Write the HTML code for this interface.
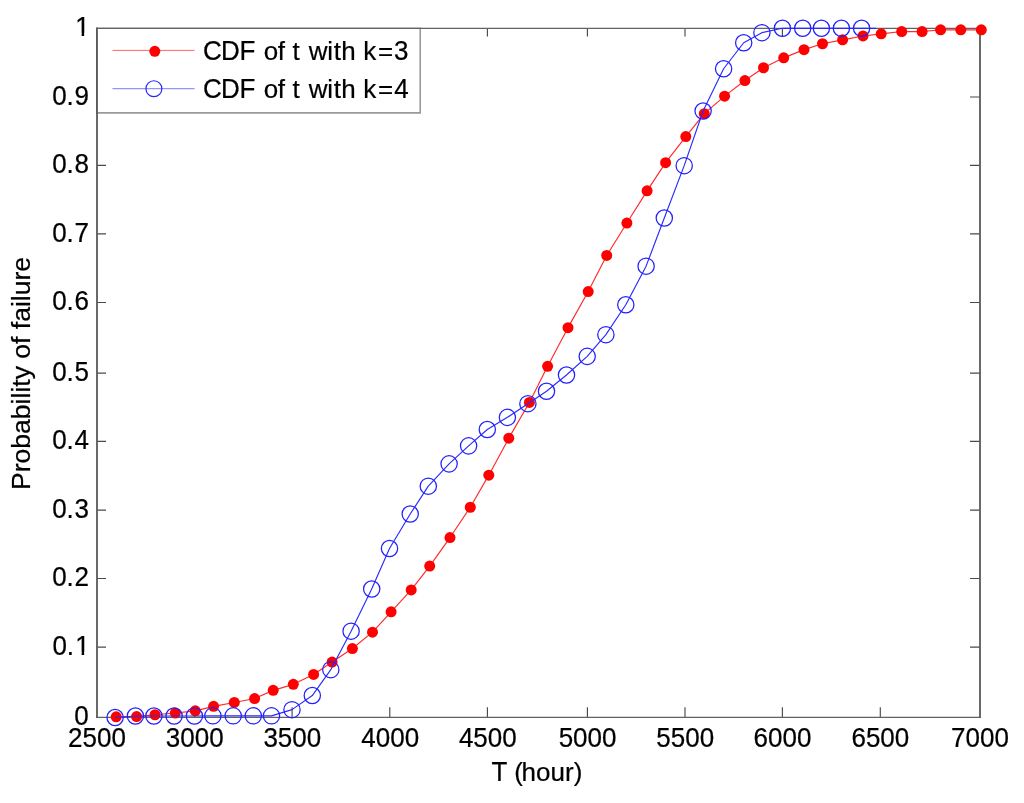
<!DOCTYPE html>
<html><head><meta charset="utf-8"><title>CDF of t</title><style>
html,body{margin:0;padding:0;background:#fff;width:1024px;height:803px;overflow:hidden}
svg{display:block}
text{font-family:"Liberation Sans",Arial,Helvetica,sans-serif;font-size:26px;fill:#000;stroke:#000;stroke-width:0.22px;font-kerning:none;white-space:pre}
</style></head><body>
<svg width="1024" height="803" viewBox="0 0 1024 803">
<defs>
<clipPath id="c01"><path d="M0 0H1024V651.90H0Z M0 0H75.50V803H0Z M81.65 0H84.15V803H81.65Z"/></clipPath>
<clipPath id="c1"><path d="M0 0H1024V33.20H0Z M0 0H75.50V803H0Z M81.65 0H84.15V803H81.65Z"/></clipPath>
</defs>
<rect x="0" y="0" width="1024" height="803" fill="#fff"/>
<path d="M194.5 717.3V707.3M194.5 28.4V36.4M292.1 717.3V707.3M292.1 28.4V36.4M389.8 717.3V707.3M389.8 28.4V36.4M487.4 717.3V707.3M487.4 28.4V36.4M587.4 717.3V707.3M587.4 28.4V36.4M685.0 717.3V707.3M685.0 28.4V36.4M782.4 717.3V707.3M782.4 28.4V36.4M880.3 717.3V707.3M880.3 28.4V36.4M97.0 647.1H106.0M980.0 647.1H970.0M97.0 578.5H106.0M980.0 578.5H970.0M97.0 510.1H106.0M980.0 510.1H970.0M97.0 441.4H106.0M980.0 441.4H970.0M97.0 373.1H106.0M980.0 373.1H970.0M97.0 302.5H106.0M980.0 302.5H970.0M97.0 233.8H106.0M980.0 233.8H970.0M97.0 165.4H106.0M980.0 165.4H970.0M97.0 97.0H106.0M980.0 97.0H970.0" stroke="#4a4a4a" stroke-width="1.15" fill="none"/>
<path d="M96.2 28.4H980.8M96.2 717.3H980.8" stroke="#626262" stroke-width="1.35" fill="none"/>
<path d="M97.0 27.8V717.9M980.0 27.8V717.9" stroke="#5a5a5a" stroke-width="1.8" fill="none"/>
<polyline points="116.20,716.85 136.60,716.55 155.00,714.75 175.30,713.05 195.30,710.85 213.60,706.35 234.30,702.45 254.60,698.55 273.20,690.35 293.30,684.35 313.60,674.45 332.10,662.05 352.40,648.55 372.50,632.15 391.10,611.85 411.20,589.95 429.70,566.05 450.00,537.55 470.30,507.25 488.80,475.15 508.80,438.15 529.40,402.45 547.60,366.35 568.00,327.65 588.20,291.55 606.70,255.45 626.90,223.05 647.10,190.85 665.60,162.65 685.80,136.55 704.30,113.65 724.60,96.15 744.90,80.55 763.50,67.75 783.70,57.85 804.00,49.65 822.50,43.75 842.60,39.85 863.00,35.95 881.20,33.85 901.70,31.55 922.10,31.55 940.60,29.85 960.80,29.85 981.30,29.85" fill="none" stroke="#ff2a2a" stroke-width="1.15" stroke-linejoin="round"/>
<g fill="#ff0000"><circle cx="116.20" cy="716.85" r="5.5"/><circle cx="136.60" cy="716.55" r="5.5"/><circle cx="155.00" cy="714.75" r="5.5"/><circle cx="175.30" cy="713.05" r="5.5"/><circle cx="195.30" cy="710.85" r="5.5"/><circle cx="213.60" cy="706.35" r="5.5"/><circle cx="234.30" cy="702.45" r="5.5"/><circle cx="254.60" cy="698.55" r="5.5"/><circle cx="273.20" cy="690.35" r="5.5"/><circle cx="293.30" cy="684.35" r="5.5"/><circle cx="313.60" cy="674.45" r="5.5"/><circle cx="332.10" cy="662.05" r="5.5"/><circle cx="352.40" cy="648.55" r="5.5"/><circle cx="372.50" cy="632.15" r="5.5"/><circle cx="391.10" cy="611.85" r="5.5"/><circle cx="411.20" cy="589.95" r="5.5"/><circle cx="429.70" cy="566.05" r="5.5"/><circle cx="450.00" cy="537.55" r="5.5"/><circle cx="470.30" cy="507.25" r="5.5"/><circle cx="488.80" cy="475.15" r="5.5"/><circle cx="508.80" cy="438.15" r="5.5"/><circle cx="529.40" cy="402.45" r="5.5"/><circle cx="547.60" cy="366.35" r="5.5"/><circle cx="568.00" cy="327.65" r="5.5"/><circle cx="588.20" cy="291.55" r="5.5"/><circle cx="606.70" cy="255.45" r="5.5"/><circle cx="626.90" cy="223.05" r="5.5"/><circle cx="647.10" cy="190.85" r="5.5"/><circle cx="665.60" cy="162.65" r="5.5"/><circle cx="685.80" cy="136.55" r="5.5"/><circle cx="704.30" cy="113.65" r="5.5"/><circle cx="724.60" cy="96.15" r="5.5"/><circle cx="744.90" cy="80.55" r="5.5"/><circle cx="763.50" cy="67.75" r="5.5"/><circle cx="783.70" cy="57.85" r="5.5"/><circle cx="804.00" cy="49.65" r="5.5"/><circle cx="822.50" cy="43.75" r="5.5"/><circle cx="842.60" cy="39.85" r="5.5"/><circle cx="863.00" cy="35.95" r="5.5"/><circle cx="881.20" cy="33.85" r="5.5"/><circle cx="901.70" cy="31.55" r="5.5"/><circle cx="922.10" cy="31.55" r="5.5"/><circle cx="940.60" cy="29.85" r="5.5"/><circle cx="960.80" cy="29.85" r="5.5"/><circle cx="981.30" cy="29.85" r="5.5"/></g>
<polyline points="115.10,717.45 135.40,716.05 153.90,715.95 174.10,715.95 194.40,715.95 212.90,715.85 233.20,715.85 253.30,715.85 271.50,715.85 292.00,709.65 312.30,695.55 330.80,669.65 351.10,631.15 371.70,588.95 389.50,548.45 410.20,514.05 428.30,486.15 449.10,463.85 468.60,445.85 487.30,429.55 507.40,417.35 527.90,403.65 546.50,391.25 566.50,375.05 587.20,356.35 605.90,334.65 625.80,304.75 646.10,266.15 664.30,218.05 684.20,165.65 703.10,110.95 723.60,68.75 743.70,42.75 761.90,32.65 782.40,28.30 802.70,28.30 821.40,28.30 841.40,28.30 861.60,28.30 876.00,28.30" fill="none" stroke="#2a2aff" stroke-width="1.15" stroke-linejoin="round"/>
<g fill="none" stroke="#2020ff" stroke-width="1.25"><circle cx="115.10" cy="717.45" r="8.15"/><circle cx="135.40" cy="716.05" r="8.15"/><circle cx="153.90" cy="715.95" r="8.15"/><circle cx="174.10" cy="715.95" r="8.15"/><circle cx="194.40" cy="715.95" r="8.15"/><circle cx="212.90" cy="715.85" r="8.15"/><circle cx="233.20" cy="715.85" r="8.15"/><circle cx="253.30" cy="715.85" r="8.15"/><circle cx="271.50" cy="715.85" r="8.15"/><circle cx="292.00" cy="709.65" r="8.15"/><circle cx="312.30" cy="695.55" r="8.15"/><circle cx="330.80" cy="669.65" r="8.15"/><circle cx="351.10" cy="631.15" r="8.15"/><circle cx="371.70" cy="588.95" r="8.15"/><circle cx="389.50" cy="548.45" r="8.15"/><circle cx="410.20" cy="514.05" r="8.15"/><circle cx="428.30" cy="486.15" r="8.15"/><circle cx="449.10" cy="463.85" r="8.15"/><circle cx="468.60" cy="445.85" r="8.15"/><circle cx="487.30" cy="429.55" r="8.15"/><circle cx="507.40" cy="417.35" r="8.15"/><circle cx="527.90" cy="403.65" r="8.15"/><circle cx="546.50" cy="391.25" r="8.15"/><circle cx="566.50" cy="375.05" r="8.15"/><circle cx="587.20" cy="356.35" r="8.15"/><circle cx="605.90" cy="334.65" r="8.15"/><circle cx="625.80" cy="304.75" r="8.15"/><circle cx="646.10" cy="266.15" r="8.15"/><circle cx="664.30" cy="218.05" r="8.15"/><circle cx="684.20" cy="165.65" r="8.15"/><circle cx="703.10" cy="110.95" r="8.15"/><circle cx="723.60" cy="68.75" r="8.15"/><circle cx="743.70" cy="42.75" r="8.15"/><circle cx="761.90" cy="32.65" r="8.15"/><circle cx="782.40" cy="28.30" r="8.15"/><circle cx="802.70" cy="28.30" r="8.15"/><circle cx="821.40" cy="28.30" r="8.15"/><circle cx="841.40" cy="28.30" r="8.15"/><circle cx="861.60" cy="28.30" r="8.15"/></g>
<rect x="97.0" y="28.4" width="323.2" height="84.5" fill="#fff"/>
<path d="M420.2 28.4V112.9H97.0" stroke="#9a9a9a" stroke-width="1.6" fill="none"/>
<path d="M97.0 113.9V27.8" stroke="#5a5a5a" stroke-width="1.8" fill="none"/>
<path d="M96.2 28.4H421.2" stroke="#626262" stroke-width="1.35" fill="none"/>
<path d="M112.5 50.4H194.5" stroke="#ff6060" stroke-width="0.95"/>
<circle cx="154.8" cy="51.3" r="5.5" fill="#ff0000"/>
<path d="M112.5 88.7H194.5" stroke="#7474ff" stroke-width="0.95"/>
<circle cx="153.9" cy="88.7" r="7.95" fill="none" stroke="#2525ff" stroke-width="1.2"/>
<text x="203.08 220.97 239.62" y="59.90" transform="matrix(1 0 0 1.0500 0 -2.995)">CDF</text>
<text x="263.81 277.63 284.86 292.51 299.73 308.64 327.16 333.71 341.30 355.76 363.25 378.03" y="59.90" transform="matrix(1 0 0 1.0150 0 -0.898)">of t with k=</text>
<text x="394.11" y="59.90" transform="matrix(1 0 0 1.0500 0 -2.995)">3</text>
<text x="203.08 220.97 239.62" y="98.20" transform="matrix(1 0 0 1.0500 0 -4.910)">CDF</text>
<text x="263.81 277.63 284.86 292.51 299.73 308.64 327.16 333.71 341.30 355.76 363.25 378.03" y="98.20" transform="matrix(1 0 0 1.0150 0 -1.473)">of t with k=</text>
<text x="394.30" y="98.20" transform="matrix(1 0 0 1.0500 0 -4.910)">4</text>
<text x="68.13 82.59 97.05 111.51" y="746.80" transform="matrix(1 0 0 1.0500 0 -37.340)">2500</text>
<text x="165.79 180.25 194.71 209.17" y="746.80" transform="matrix(1 0 0 1.0500 0 -37.340)">3000</text>
<text x="263.39 277.85 292.31 306.77" y="746.80" transform="matrix(1 0 0 1.0500 0 -37.340)">3500</text>
<text x="361.29 375.75 390.21 404.67" y="746.80" transform="matrix(1 0 0 1.0500 0 -37.340)">4000</text>
<text x="458.89 473.35 487.81 502.27" y="746.80" transform="matrix(1 0 0 1.0500 0 -37.340)">4500</text>
<text x="558.67 573.13 587.59 602.05" y="746.80" transform="matrix(1 0 0 1.0500 0 -37.340)">5000</text>
<text x="656.27 670.73 685.19 699.65" y="746.80" transform="matrix(1 0 0 1.0500 0 -37.340)">5500</text>
<text x="753.53 767.99 782.45 796.91" y="746.80" transform="matrix(1 0 0 1.0500 0 -37.340)">6000</text>
<text x="851.43 865.89 880.35 894.81" y="746.80" transform="matrix(1 0 0 1.0500 0 -37.340)">6500</text>
<text x="951.12 965.58 980.04 994.50" y="746.80" transform="matrix(1 0 0 1.0500 0 -37.340)">7000</text>
<text x="74.34" y="725.30" transform="matrix(1 0 0 1.0500 0 -36.265)">0</text>
<text x="52.52 66.78 75.20" y="655.10" transform="matrix(1 0 0 1.0500 0 -32.755)" clip-path="url(#c01)">0.1</text>
<text x="52.26 66.42 74.54" y="586.50" transform="matrix(1 0 0 1.0500 0 -29.325)">0.2</text>
<text x="52.26 66.42 74.54" y="518.10" transform="matrix(1 0 0 1.0500 0 -25.905)">0.3</text>
<text x="52.26 66.42 74.54" y="449.40" transform="matrix(1 0 0 1.0500 0 -22.470)">0.4</text>
<text x="52.26 66.42 74.54" y="381.10" transform="matrix(1 0 0 1.0500 0 -19.055)">0.5</text>
<text x="52.26 66.42 74.54" y="310.50" transform="matrix(1 0 0 1.0500 0 -15.525)">0.6</text>
<text x="52.26 66.42 74.54" y="241.80" transform="matrix(1 0 0 1.0500 0 -12.090)">0.7</text>
<text x="52.26 66.42 74.54" y="173.40" transform="matrix(1 0 0 1.0500 0 -8.670)">0.8</text>
<text x="52.26 66.42 74.54" y="105.00" transform="matrix(1 0 0 1.0500 0 -5.250)">0.9</text>
<text x="75.20" y="36.40" transform="matrix(1 0 0 1.0500 0 -1.820)" clip-path="url(#c1)">1</text>
<text x="491.42" y="781.40" transform="matrix(1 0 0 1.0400 0 -31.256)">T</text>
<text x="514.14 521.60 536.06 550.52 564.98 573.64" y="781.40">(hour)</text>
<text x="0" y="0" transform="translate(29.65 489.98) rotate(-90) scale(1.0211 1.0)">Probability of failure</text>
</svg></body></html>
